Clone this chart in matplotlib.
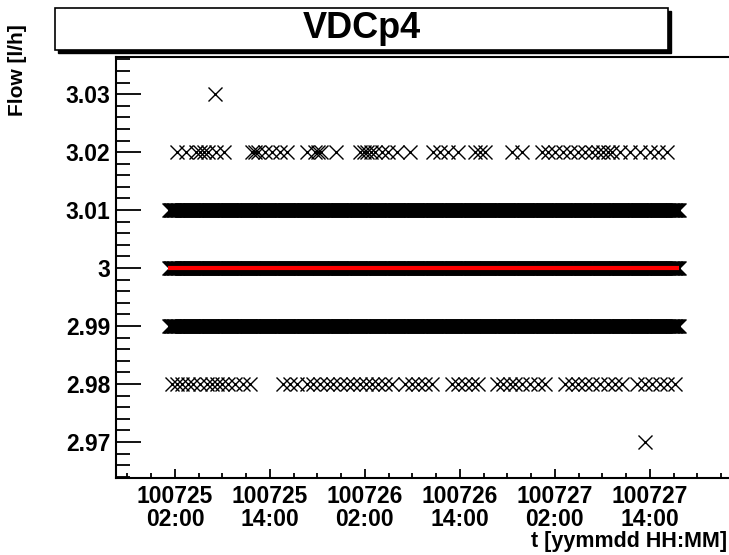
import numpy as np
import matplotlib
matplotlib.use('Agg')
import matplotlib.pyplot as plt
import matplotlib.dates as mdates
from matplotlib.patches import Rectangle
from datetime import datetime, timedelta

plt.rcParams['font.family'] = ['Liberation Sans', 'DejaVu Sans']
plt.rcParams['font.weight'] = 'bold'

# Datos: horas desde 2010-07-25 00:00
t0 = datetime(2010, 7, 25, 0, 0)

# filas casi continuas de lecturas (inicio, fin) en horas
dense_levels = [3.01, 3.00, 2.99]
dense_start, dense_end = 1.24, 65.66
reading_step = 0.1  # h entre lecturas

# lecturas sueltas
h_302 = [2.25, 3.39, 4.65, 5.16, 5.66, 6.17, 7.18, 8.19, 11.73, 12.10, 12.48,
         13.37, 14.25, 15.26, 16.15, 18.67, 19.68, 20.06, 20.44, 22.33, 25.37,
         25.87, 26.25, 26.75, 27.26, 28.14, 28.90, 30.04, 31.68, 34.59, 35.47,
         36.48, 37.74, 39.89, 40.52, 41.15, 44.56, 45.83, 48.35, 49.11, 49.99,
         51.00, 51.89, 52.90, 53.78, 54.67, 55.42, 56.06, 56.69, 57.19, 58.20,
         59.47, 60.73, 61.99, 63.00, 64.14]
h_298 = [1.62, 2.25, 2.88, 3.64, 4.27, 5.16, 6.04, 6.67, 7.30, 7.94, 8.69, 9.58,
         10.59, 11.47, 15.64, 16.52, 17.41, 18.67, 19.43, 20.31, 21.20, 21.96,
         22.84, 23.72, 24.48, 25.37, 26.12, 26.88, 27.64, 28.52, 29.41, 31.05,
         31.93, 32.69, 33.58, 34.46, 36.99, 37.74, 38.63, 39.51, 40.27, 42.67,
         43.43, 44.31, 44.94, 45.83, 46.84, 47.85, 48.73, 51.26, 52.14, 52.90,
         53.78, 54.67, 55.68, 56.69, 57.57, 58.46, 60.35, 61.36, 62.24, 63.26,
         64.14, 65.15]
h_303 = [7.05]
h_297 = [61.36]

# ajuste constante
fit_value = 3.0
fit_range = (1.15, 65.66)


def to_dates(hours):
    return [t0 + timedelta(hours=float(h)) for h in hours]


fig = plt.figure(figsize=(7.29, 5.55), dpi=100)
ax = fig.add_axes([116 / 729, 77 / 555, 1 - 116 / 729, 421 / 555])

mk = dict(marker='x', linestyle='none', color='black', ms=9.5, mew=1.0)
dense_hours = np.arange(dense_start, dense_end + 1e-9, reading_step)
for lvl in dense_levels:
    ax.plot(to_dates(dense_hours), [lvl] * len(dense_hours), **mk)
ax.plot(to_dates(h_302), [3.02] * len(h_302), **mk)
ax.plot(to_dates(h_298), [2.98] * len(h_298), **mk)
ax.plot(to_dates(h_303), [3.03] * len(h_303), **mk)
ax.plot(to_dates(h_297), [2.97] * len(h_297), **mk)

ax.plot(to_dates(fit_range), [fit_value, fit_value], color='red', lw=3.0,
        solid_capstyle='butt')

ax.set_xlim(to_dates([-5.45, 72.0]))
ax.set_ylim(2.9638, 3.0364)

ax.xaxis.set_major_locator(mdates.HourLocator(byhour=[2, 14]))
ax.xaxis.set_minor_locator(mdates.HourLocator(byhour=[5, 8, 11, 17, 20, 23]))
ax.xaxis.set_major_formatter(mdates.DateFormatter('%y%m%d\n%H:%M'))
ax.set_yticks([2.97, 2.98, 2.99, 3.0, 3.01, 3.02, 3.03])
ax.set_yticklabels(['2.97', '2.98', '2.99', '3', '3.01', '3.02', '3.03'])
ax.set_yticks(np.round(np.arange(2.964, 3.037, 0.002), 3), minor=True)

ax.tick_params(axis='both', which='both', direction='in', width=1.3,
               labelsize=16.5, top=False, right=False)
ax.tick_params(axis='x', which='major', length=6.5, pad=5)
ax.tick_params(axis='x', which='minor', length=3.5)
ax.tick_params(axis='y', which='major', length=18, pad=4)
ax.tick_params(axis='y', which='minor', length=10)
for lab in ax.get_xticklabels():
    lab.set_fontweight('bold')
    lab.set_linespacing(1.0)
for lab in ax.get_yticklabels():
    lab.set_fontweight('bold')

for s in ['left', 'bottom', 'top']:
    ax.spines[s].set_linewidth(1.5)
ax.spines['right'].set_visible(False)

# etiquetas de ejes
fig.text(18 / 729, 1 - 24 / 555, 'Flow [l/h]', rotation=90, ha='center', va='top',
         fontsize=15, fontweight='bold')
fig.text(727 / 729, 1 - 542 / 555, 't [yymmdd HH:MM]', ha='right', va='center',
         fontsize=15.5, fontweight='bold')

# caja del titulo con sombra
fig.patches.append(Rectangle((58 / 729, 1 - 53 / 555), 613 / 729, 42 / 555,
                             transform=fig.transFigure, facecolor='black',
                             edgecolor='black', zorder=1))
fig.patches.append(Rectangle((55 / 729, 1 - 50 / 555), 613 / 729, 42 / 555,
                             transform=fig.transFigure, facecolor='white',
                             edgecolor='black', lw=1.2, zorder=2))
fig.text(362 / 729, 1 - 29 / 555, 'VDCp4', ha='center', va='center',
         fontsize=26, fontweight='bold', zorder=3)

fig.savefig('out.png', dpi=100)
